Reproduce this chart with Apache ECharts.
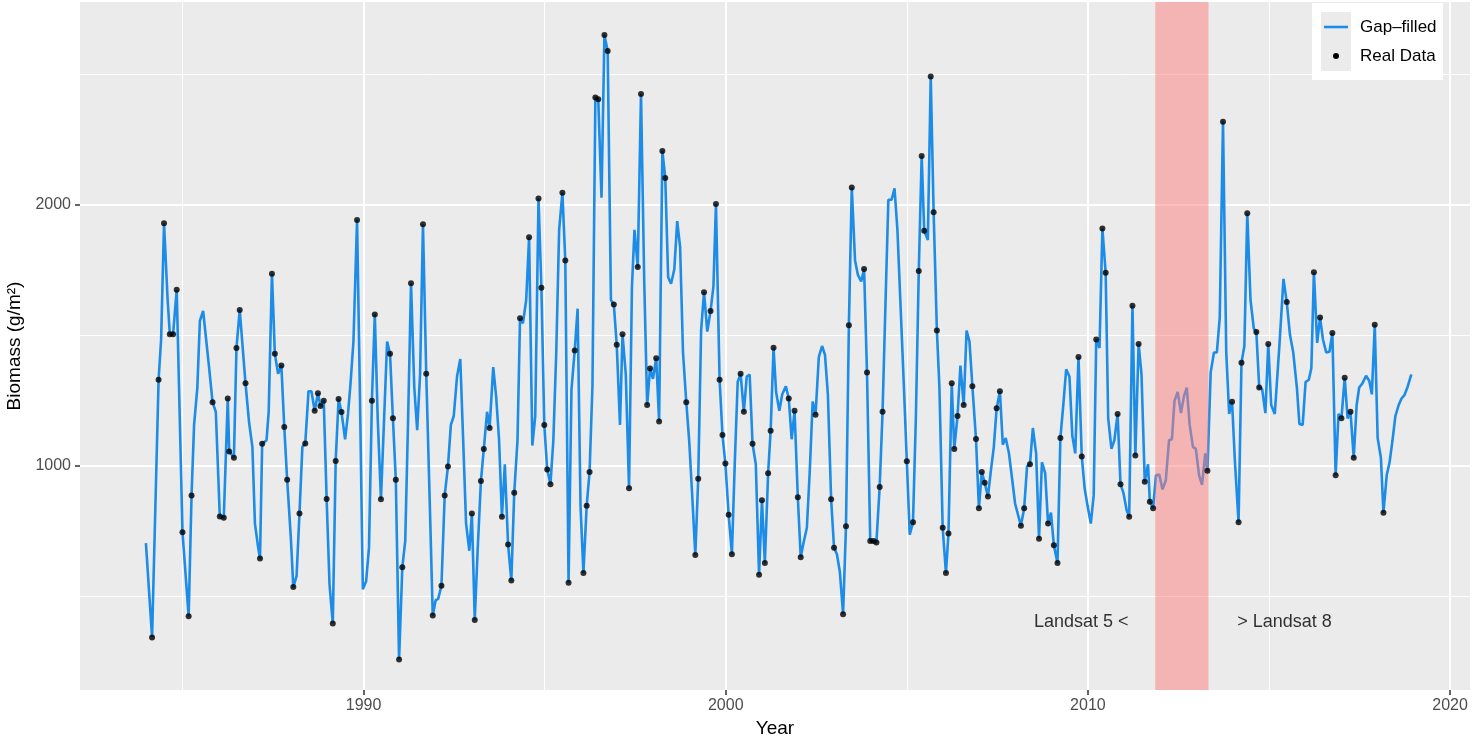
<!DOCTYPE html>
<html>
<head>
<meta charset="utf-8">
<title>Biomass</title>
<script src="https://cdn.jsdelivr.net/npm/echarts@6/dist/echarts.min.js"></script>
<style>
  html, body { margin: 0; padding: 0; background: #fff; }
  #chart { width: 1476px; height: 737px; }
</style>
</head>
<body>
<div id="chart"></div>
<script>
// [year, biomass g/m2, 1 = real observation, 0 = gap-filled only]
const biomassSeries = [
  [1983.99, 703, 0], [1984.16, 342, 1], [1984.34, 1329, 1], [1984.41, 1483, 0], [1984.49, 1928, 1],
  [1984.59, 1634, 0], [1984.65, 1503, 1], [1984.74, 1503, 1], [1984.84, 1673, 1], [1985.00, 745, 1],
  [1985.17, 423, 1], [1985.25, 886, 1], [1985.32, 1156, 0], [1985.41, 1299, 0], [1985.48, 1554, 0],
  [1985.57, 1592, 0], [1985.73, 1382, 0], [1985.83, 1243, 1], [1985.92, 1206, 0], [1986.03, 805, 1],
  [1986.14, 800, 1], [1986.25, 1257, 1], [1986.29, 1054, 1], [1986.42, 1030, 1], [1986.49, 1450, 1],
  [1986.58, 1596, 1], [1986.74, 1315, 1], [1986.84, 1164, 0], [1986.93, 1072, 0], [1987.00, 778, 0],
  [1987.09, 686, 0], [1987.14, 644, 1], [1987.20, 1084, 1], [1987.32, 1097, 0], [1987.38, 1206, 0],
  [1987.47, 1735, 1], [1987.55, 1428, 1], [1987.64, 1352, 0], [1987.73, 1383, 1], [1987.81, 1148, 1],
  [1987.89, 946, 1], [1987.99, 728, 0], [1988.06, 535, 1], [1988.15, 577, 0], [1988.23, 817, 1],
  [1988.31, 1072, 0], [1988.39, 1085, 1], [1988.48, 1285, 0], [1988.56, 1285, 0], [1988.65, 1210, 1],
  [1988.74, 1277, 1], [1988.81, 1228, 1], [1988.90, 1248, 1], [1988.98, 872, 1], [1989.06, 544, 0],
  [1989.15, 396, 1], [1989.23, 1018, 1], [1989.31, 1255, 1], [1989.39, 1205, 1], [1989.49, 1101, 0],
  [1989.57, 1198, 0], [1989.64, 1315, 0], [1989.72, 1475, 0], [1989.82, 1940, 1], [1989.90, 1265, 0],
  [1989.98, 527, 0], [1990.07, 557, 0], [1990.15, 686, 0], [1990.23, 1248, 1], [1990.31, 1579, 1],
  [1990.39, 1181, 0], [1990.48, 871, 1], [1990.56, 1156, 0], [1990.65, 1475, 0], [1990.73, 1428, 1],
  [1990.81, 1181, 1], [1990.89, 946, 1], [1990.98, 258, 1], [1991.07, 611, 1], [1991.15, 711, 0],
  [1991.23, 1181, 0], [1991.31, 1698, 1], [1991.40, 1299, 0], [1991.48, 1136, 0], [1991.56, 1349, 0],
  [1991.64, 1924, 1], [1991.73, 1352, 1], [1991.83, 846, 0], [1991.91, 426, 1], [1991.99, 485, 0],
  [1992.06, 490, 0], [1992.15, 540, 1], [1992.24, 886, 1], [1992.33, 997, 1], [1992.41, 1156, 0],
  [1992.49, 1190, 0], [1992.58, 1341, 0], [1992.67, 1408, 0], [1992.75, 1097, 0], [1992.83, 778, 0],
  [1992.92, 674, 0], [1992.99, 817, 1], [1993.07, 409, 1], [1993.15, 678, 0], [1993.24, 941, 1],
  [1993.32, 1064, 1], [1993.41, 1206, 0], [1993.48, 1144, 1], [1993.58, 1377, 0], [1993.66, 1265, 0],
  [1993.74, 1101, 0], [1993.82, 804, 1], [1993.90, 1005, 0], [1993.99, 698, 1], [1994.08, 560, 1],
  [1994.16, 896, 1], [1994.25, 1097, 0], [1994.32, 1564, 1], [1994.40, 1545, 0], [1994.49, 1634, 0],
  [1994.57, 1874, 1], [1994.66, 1077, 0], [1994.74, 1190, 0], [1994.83, 2023, 1], [1994.91, 1681, 1],
  [1994.99, 1156, 1], [1995.07, 985, 1], [1995.16, 929, 1], [1995.24, 1097, 0], [1995.32, 1433, 0],
  [1995.40, 1903, 0], [1995.49, 2045, 1], [1995.57, 1785, 1], [1995.66, 552, 1], [1995.74, 1290, 0],
  [1995.83, 1441, 1], [1995.91, 1601, 0], [1995.99, 846, 0], [1996.07, 589, 1], [1996.16, 846, 1],
  [1996.24, 976, 1], [1996.32, 1307, 0], [1996.40, 2409, 1], [1996.48, 2403, 1], [1996.57, 2026, 0],
  [1996.65, 2649, 1], [1996.74, 2587, 1], [1996.83, 1634, 0], [1996.91, 1617, 1], [1996.99, 1463, 1],
  [1997.08, 1156, 0], [1997.15, 1503, 1], [1997.24, 1349, 0], [1997.33, 913, 1], [1997.41, 1685, 0],
  [1997.48, 1903, 0], [1997.57, 1760, 1], [1997.66, 2423, 1], [1997.75, 1701, 0], [1997.83, 1232, 1],
  [1997.91, 1372, 1], [1997.99, 1332, 0], [1998.08, 1411, 1], [1998.16, 1169, 1], [1998.25, 2205, 1],
  [1998.33, 2101, 1], [1998.41, 1721, 0], [1998.49, 1696, 0], [1998.58, 1752, 0], [1998.66, 1936, 0],
  [1998.74, 1836, 0], [1998.82, 1433, 0], [1998.91, 1243, 1], [1998.99, 1097, 0], [1999.07, 896, 0],
  [1999.16, 658, 1], [1999.24, 950, 1], [1999.32, 1517, 0], [1999.40, 1664, 1], [1999.49, 1513, 0],
  [1999.58, 1592, 1], [1999.66, 1685, 0], [1999.73, 2002, 1], [1999.83, 1329, 1], [1999.91, 1117, 1],
  [1999.99, 1008, 1], [2000.08, 812, 1], [2000.17, 661, 1], [2000.25, 1013, 0], [2000.33, 1320, 0],
  [2000.41, 1352, 1], [2000.50, 1206, 1], [2000.58, 1341, 0], [2000.66, 1349, 0], [2000.74, 1084, 1],
  [2000.83, 1005, 0], [2000.92, 582, 1], [2001.00, 867, 1], [2001.08, 627, 1], [2001.17, 971, 1],
  [2001.24, 1134, 1], [2001.32, 1451, 1], [2001.39, 1282, 0], [2001.48, 1210, 0], [2001.56, 1273, 0],
  [2001.66, 1304, 0], [2001.74, 1257, 1], [2001.82, 1101, 0], [2001.90, 1210, 1], [2001.99, 879, 1],
  [2002.07, 649, 1], [2002.15, 706, 0], [2002.24, 762, 0], [2002.32, 980, 0], [2002.40, 1245, 0],
  [2002.48, 1195, 1], [2002.57, 1416, 0], [2002.66, 1458, 0], [2002.74, 1424, 0], [2002.82, 1273, 0],
  [2002.91, 871, 1], [2002.99, 686, 1], [2003.07, 661, 0], [2003.15, 594, 0], [2003.24, 431, 1],
  [2003.32, 768, 1], [2003.40, 1537, 1], [2003.48, 2065, 1], [2003.57, 1785, 0], [2003.65, 1730, 0],
  [2003.74, 1705, 0], [2003.82, 1753, 1], [2003.90, 1357, 1], [2003.99, 711, 1], [2004.08, 711, 1],
  [2004.16, 706, 1], [2004.25, 918, 1], [2004.33, 1206, 1], [2004.41, 1617, 0], [2004.49, 2018, 0],
  [2004.58, 2018, 0], [2004.66, 2062, 0], [2004.74, 1903, 0], [2004.83, 1601, 0], [2004.92, 1299, 0],
  [2005.00, 1017, 1], [2005.08, 736, 0], [2005.17, 783, 1], [2005.25, 1185, 0], [2005.33, 1745, 1],
  [2005.41, 2185, 1], [2005.48, 1899, 1], [2005.58, 1864, 0], [2005.66, 2490, 1], [2005.74, 1970, 1],
  [2005.83, 1517, 1], [2005.90, 1299, 0], [2005.99, 762, 1], [2006.08, 589, 1], [2006.15, 740, 1],
  [2006.24, 1315, 1], [2006.31, 1064, 1], [2006.40, 1190, 1], [2006.48, 1383, 0], [2006.57, 1232, 1],
  [2006.65, 1517, 0], [2006.73, 1475, 0], [2006.81, 1304, 1], [2006.91, 1102, 1], [2006.99, 837, 1],
  [2007.07, 976, 1], [2007.15, 934, 1], [2007.24, 882, 1], [2007.32, 980, 0], [2007.40, 1069, 0],
  [2007.48, 1220, 1], [2007.57, 1285, 1], [2007.65, 1080, 0], [2007.73, 1106, 0], [2007.82, 1047, 0],
  [2007.91, 946, 0], [2007.99, 854, 0], [2008.07, 812, 0], [2008.15, 770, 1], [2008.24, 837, 1],
  [2008.32, 997, 0], [2008.40, 1005, 1], [2008.48, 1144, 0], [2008.57, 1047, 0], [2008.65, 720, 1],
  [2008.73, 1013, 0], [2008.82, 971, 0], [2008.90, 778, 1], [2008.98, 820, 0], [2009.06, 695, 1],
  [2009.16, 627, 1], [2009.24, 1106, 1], [2009.32, 1232, 0], [2009.40, 1369, 0], [2009.49, 1341, 0],
  [2009.57, 1114, 0], [2009.65, 1047, 0], [2009.74, 1416, 1], [2009.83, 1035, 1], [2009.91, 913, 0],
  [2009.99, 846, 0], [2010.08, 778, 0], [2010.16, 887, 0], [2010.23, 1483, 1], [2010.32, 1450, 0],
  [2010.40, 1908, 1], [2010.49, 1738, 1], [2010.56, 1181, 0], [2010.65, 1064, 0], [2010.73, 1097, 0],
  [2010.82, 1198, 1], [2010.90, 929, 1], [2010.98, 896, 0], [2011.07, 829, 0], [2011.14, 804, 1],
  [2011.23, 1612, 1], [2011.31, 1039, 1], [2011.40, 1466, 1], [2011.48, 1349, 0], [2011.57, 938, 1],
  [2011.66, 1005, 0], [2011.71, 862, 1], [2011.80, 837, 1], [2011.88, 963, 0], [2011.97, 966, 0],
  [2012.06, 909, 0], [2012.15, 943, 0], [2012.24, 1097, 0], [2012.32, 1101, 0], [2012.39, 1248, 0],
  [2012.48, 1282, 0], [2012.57, 1201, 0], [2012.65, 1265, 0], [2012.73, 1299, 0], [2012.81, 1156, 0],
  [2012.90, 1072, 0], [2012.98, 1064, 0], [2013.07, 963, 0], [2013.15, 926, 0], [2013.24, 1047, 0],
  [2013.30, 980, 1], [2013.39, 1357, 0], [2013.48, 1433, 0], [2013.56, 1433, 0], [2013.64, 1567, 0],
  [2013.73, 2317, 1], [2013.82, 1433, 0], [2013.90, 1198, 0], [2013.98, 1245, 1], [2014.06, 1013, 0],
  [2014.16, 783, 1], [2014.24, 1394, 1], [2014.32, 1458, 0], [2014.40, 1966, 1], [2014.49, 1634, 0],
  [2014.58, 1525, 0], [2014.65, 1512, 1], [2014.73, 1299, 1], [2014.81, 1294, 0], [2014.90, 1201, 0],
  [2014.98, 1466, 1], [2015.06, 1232, 0], [2015.16, 1198, 0], [2015.29, 1466, 0], [2015.40, 1715, 0],
  [2015.49, 1626, 1], [2015.58, 1500, 0], [2015.67, 1433, 0], [2015.77, 1299, 0], [2015.84, 1159, 0],
  [2015.93, 1156, 0], [2016.01, 1320, 0], [2016.10, 1329, 0], [2016.17, 1374, 0], [2016.24, 1740, 1],
  [2016.33, 1470, 0], [2016.41, 1567, 1], [2016.49, 1483, 0], [2016.58, 1433, 0], [2016.67, 1436, 0],
  [2016.75, 1508, 1], [2016.84, 963, 1], [2016.92, 1198, 0], [2017.00, 1181, 1], [2017.09, 1336, 1],
  [2017.17, 1181, 0], [2017.25, 1206, 1], [2017.34, 1030, 1], [2017.42, 1232, 0], [2017.49, 1299, 0],
  [2017.58, 1315, 0], [2017.68, 1344, 0], [2017.77, 1324, 0], [2017.84, 1273, 0], [2017.92, 1539, 1],
  [2018.00, 1106, 0], [2018.09, 1030, 0], [2018.16, 820, 1], [2018.25, 963, 0], [2018.33, 1013, 0],
  [2018.41, 1097, 0], [2018.49, 1190, 0], [2018.58, 1232, 0], [2018.66, 1257, 0], [2018.74, 1270, 0],
  [2018.82, 1299, 0], [2018.93, 1349, 0]
]
const xMajorTicks = [1990, 2000, 2010, 2020]
const xMinorTicks = [1985, 1995, 2005, 2015]
const yMajorTicks = [1000, 2000]
const yMinorTicks = [500, 1500, 2500]
const gapPeriod = [2011.86, 2013.33] // no Landsat 5 / 8 coverage
const labelLeft = { text: 'Landsat 5 <', year: 2011.12, biomass: 400 }
const labelRight = { text: '> Landsat 8', year: 2014.12, biomass: 400 }

const FONT = "'Liberation Sans', Arial, Helvetica, sans-serif"
const BLUE = '#1C8CE6'

const gapFilled = biomassSeries.map((d) => [d[0], d[1]])
const realData = biomassSeries.filter((d) => d[2] === 1).map((d) => [d[0], d[1]])

const gridLines = [
  ...xMajorTicks.map((v) => ({ xAxis: v, lineStyle: { width: 2 } })),
  ...xMinorTicks.map((v) => ({ xAxis: v, lineStyle: { width: 1 } })),
  ...yMajorTicks.map((v) => ({ yAxis: v, lineStyle: { width: 2 } })),
  ...yMinorTicks.map((v) => ({ yAxis: v, lineStyle: { width: 1 } }))
]

const myChart = echarts.init(document.getElementById('chart'))
const option = {
  animation: false,
  backgroundColor: '#fff',
  textStyle: { fontFamily: FONT },
  grid: {
    left: 80,
    right: 6,
    top: 2,
    bottom: 47,
    show: true,
    backgroundColor: '#EBEBEB',
    borderWidth: 0,
    outerBoundsMode: 'none'
  },
  xAxis: {
    type: 'value',
    min: 1982.17,
    max: 2020.55,
    name: 'Year',
    nameLocation: 'middle',
    nameGap: 28,
    nameTextStyle: { color: '#000', fontSize: 19, fontFamily: FONT },
    axisLine: { show: false },
    splitLine: { show: false },
    axisTick: { show: true, customValues: xMajorTicks, length: 5, lineStyle: { color: '#333', width: 1.5 } },
    axisLabel: {
      customValues: xMajorTicks,
      formatter: (v) => String(v),
      color: '#4D4D4D',
      fontSize: 16,
      margin: 8,
      fontFamily: FONT
    }
  },
  yAxis: {
    type: 'value',
    min: 141,
    max: 2775,
    name: 'Biomass (g/m²)',
    nameLocation: 'middle',
    nameGap: 54,
    nameTextStyle: { color: '#000', fontSize: 19, fontFamily: FONT },
    axisLine: { show: false },
    splitLine: { show: false },
    axisTick: { show: true, customValues: yMajorTicks, length: 5, lineStyle: { color: '#333', width: 1.5 } },
    axisLabel: {
      customValues: yMajorTicks,
      formatter: (v) => String(v),
      color: '#4D4D4D',
      fontSize: 16,
      margin: 9,
      fontFamily: FONT
    }
  },
  series: [
    {
      // 背景网格线 (放在折线下面)
      type: 'scatter',
      data: [],
      z: 1,
      silent: true,
      markLine: {
        z: 1,
        silent: true,
        symbol: ['none', 'none'],
        label: { show: false },
        lineStyle: { color: '#fff', type: 'solid' },
        emphasis: { disabled: true },
        data: gridLines
      }
    },
    {
      name: 'Gap–filled',
      type: 'line',
      data: gapFilled,
      z: 2,
      showSymbol: false,
      symbol: 'none',
      lineStyle: { color: BLUE, width: 2.6 },
      itemStyle: { color: BLUE }
    },
    {
      // Landsat 7 only period, drawn over the line
      type: 'scatter',
      data: [],
      z: 3,
      silent: true,
      markArea: {
        z: 3,
        silent: true,
        itemStyle: { color: 'rgba(255, 125, 125, 0.5)' },
        data: [[{ xAxis: gapPeriod[0] }, { xAxis: gapPeriod[1] }]]
      }
    },
    {
      name: 'Real Data',
      type: 'scatter',
      data: realData,
      z: 4,
      symbol: 'circle',
      symbolSize: 6,
      itemStyle: { color: '#000' }
    },
    {
      type: 'scatter',
      z: 5,
      silent: true,
      symbolSize: 0,
      data: [
        { value: [labelLeft.year, labelLeft.biomass], label: { show: true, position: 'left', distance: 0, formatter: labelLeft.text } },
        { value: [labelRight.year, labelRight.biomass], label: { show: true, position: 'right', distance: 0, formatter: labelRight.text } }
      ],
      label: { color: '#000', fontSize: 18, fontFamily: FONT }
    }
  ],
  graphic: [
    { type: 'rect', shape: { x: 1312, y: 3, width: 131, height: 77 }, style: { fill: '#fff' }, z: 50 },
    { type: 'rect', shape: { x: 1321, y: 12, width: 30, height: 59 }, style: { fill: '#EBEBEB' }, z: 51 },
    { type: 'line', shape: { x1: 1324, y1: 27, x2: 1348, y2: 27 }, style: { stroke: BLUE, lineWidth: 2.6 }, z: 52 },
    { type: 'circle', shape: { cx: 1336, cy: 56, r: 3 }, style: { fill: '#000' }, z: 52 },
    { type: 'text', x: 1360, y: 27, style: { text: 'Gap–filled', fill: '#000', font: "17px 'Liberation Sans', Arial, sans-serif", textVerticalAlign: 'middle' }, z: 52 },
    { type: 'text', x: 1360, y: 56, style: { text: 'Real Data', fill: '#000', font: "17px 'Liberation Sans', Arial, sans-serif", textVerticalAlign: 'middle' }, z: 52 }
  ]
}
option && myChart.setOption(option)
</script>
</body>
</html>
